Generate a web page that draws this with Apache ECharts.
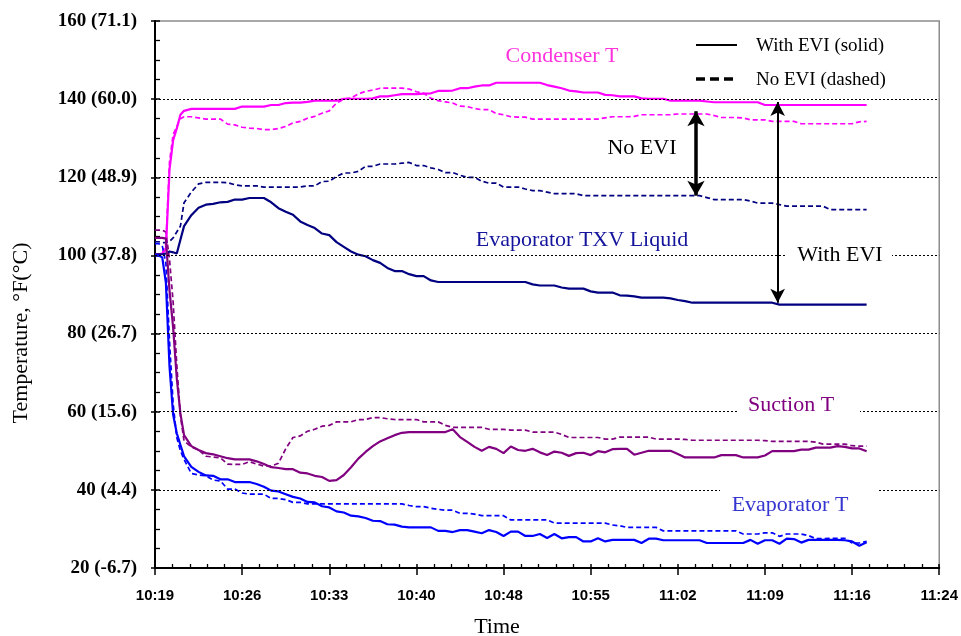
<!DOCTYPE html>
<html>
<head>
<meta charset="utf-8">
<script src="https://cdn.jsdelivr.net/npm/echarts@6/dist/echarts.min.js"></script>
<style>
  html, body { margin: 0; padding: 0; background: #fff; }
  #chart { width: 961px; height: 636px; }
</style>
</head>
<body>
<div id="chart"></div>
<script>
// Sample times, minutes after midnight (10:19:12 onward)
const minutes = [619.2, 619.5, 619.8, 620.1, 620.4, 620.7, 621.0, 621.3, 621.6,
  622.2, 622.8, 623.4, 624.0, 624.6, 625.2, 625.8, 626.4, 627.0, 627.6,
  628.2, 628.8, 629.4, 630.0, 630.6, 631.2, 631.8, 632.4, 633.0, 633.6,
  634.2, 634.8, 635.4, 636.0, 636.6, 637.2, 637.8, 638.4, 639.0, 639.6,
  640.2, 640.8, 641.4, 642.0, 642.6, 643.2, 643.8, 644.4, 645.0, 645.6,
  646.2, 646.8, 647.4, 648.0, 648.6, 649.2, 649.8, 650.4, 651.0, 651.6,
  652.2, 652.8, 653.4, 654.0, 654.6, 655.2, 655.8, 656.4, 657.0, 657.6,
  658.2, 658.8, 659.4, 660.0, 660.6, 661.2, 661.8, 662.4, 663.0, 663.6,
  664.2, 664.8, 665.4, 666.0, 666.6, 667.2, 667.8, 668.4, 669.0, 669.6,
  670.2, 670.8, 671.4, 672.0, 672.6, 673.2, 673.8, 674.4, 675.0, 675.6,
  676.2, 676.8, 677.4, 678.0];

// Condenser temperature, °F
const condenserWithEvi = [100.3, 100.3, 100.5, 101.5, 122, 129.5, 132.5, 136, 137,
  137.5, 137.5, 137.5, 137.5, 137.5, 137.5, 137.5, 138.1, 138.1, 138.1,
  138.1, 138.5, 138.5, 139.0, 139.1, 139.1, 139.3, 139.6, 139.6, 139.6,
  139.6, 140.1, 140.1, 140.1, 140.1, 140.2, 140.7, 140.7, 141.0, 141.3,
  141.3, 141.3, 141.4, 141.5, 142.1, 142.1, 142.2, 142.8, 142.8, 143.2,
  143.5, 143.5, 144.2, 144.2, 144.2, 144.2, 144.2, 144.2, 144.2, 143.6,
  143.2, 142.8, 142.2, 142.0, 141.7, 141.7, 141.7, 141.1, 141.0, 140.7,
  140.7, 140.7, 140.2, 140.1, 140.1, 140.1, 139.6, 139.6, 139.6, 139.6,
  139.6, 139.4, 139.2, 139.2, 139.2, 139.2, 139.2, 139.2, 139.2, 138.5,
  138.5, 138.5, 138.5, 138.5, 138.5, 138.5, 138.5, 138.5, 138.5, 138.5,
  138.5, 138.5, 138.5, 138.5];
const condenserNoEvi = [100.3, 100.3, 100.5, 103, 124, 131, 133, 135, 135.5,
  135.5, 135.2, 134.9, 134.9, 134.9, 133.6, 133.4, 132.8, 132.6, 132.5,
  132.2, 132.2, 132.5, 133.0, 133.9, 134.3, 135.1, 135.6, 136.4, 137,
  139, 140, 140.3, 141.3, 142, 142.3, 142.8, 142.8, 142.8, 142.8,
  142.6, 141.9, 141.5, 140.2, 139.6, 139.3, 139, 138.2, 138.1, 137.6,
  137.3, 137.3, 136.3, 136, 135.5, 135.4, 135.4, 134.9, 134.9, 134.9,
  134.9, 134.9, 134.9, 134.9, 134.9, 134.9, 134.9, 135.2, 135.5, 135.5,
  135.5, 135.6, 136, 136, 136, 136, 136, 136.2, 136.2, 136.2,
  136.2, 136.2, 135.8, 135.3, 135.3, 135.3, 135.2, 134.7, 134.7, 134.7,
  134.3, 134.3, 134.3, 134.3, 133.7, 133.7, 133.7, 133.7, 133.7, 133.7,
  133.7, 133.7, 134.2, 134.3];

// Evaporator TXV liquid temperature, °F
const txvWithEvi = [100.3, 100.3, 100.3, 100.5, 101, 100.8, 100.5, 104, 107.5,
  110.3, 112.2, 113, 113.2, 113.6, 113.7, 114.3, 114.3, 114.7, 114.7,
  114.7, 113.6, 112.1, 111.2, 110.4, 108.7, 107.8, 107, 105.6, 105.2,
  103.4, 102.2, 101, 100.2, 99.8, 98.8, 98.1, 96.8, 96, 96,
  95.2, 94.7, 94.7, 93.6, 93.2, 93.2, 93.2, 93.2, 93.2, 93.2,
  93.2, 93.2, 93.2, 93.2, 93.2, 93.2, 93.2, 92.6, 92.3, 92.3,
  92.3, 91.8, 91.5, 91.5, 91.5, 90.8, 90.5, 90.5, 90.5, 89.8,
  89.7, 89.5, 89.2, 89.2, 89.2, 89.2, 89.0, 88.6, 88.3, 87.9,
  87.9, 87.9, 87.9, 87.9, 87.9, 87.9, 87.9, 87.9, 87.9, 87.9,
  87.9, 87.4, 87.4, 87.4, 87.4, 87.4, 87.4, 87.4, 87.4, 87.4,
  87.4, 87.4, 87.4, 87.4];
const txvNoEvi = [103.5, 103.5, 103.3, 103.3, 103.6, 104.5, 106, 107.5, 113.5,
  116.2, 118.3, 118.7, 118.7, 118.7, 118.6, 118.1, 117.8, 117.8, 117.8,
  117.5, 117.5, 117.5, 117.5, 117.5, 117.5, 117.8, 117.8, 118.9, 119,
  120.2, 121.1, 121.1, 121.5, 122.8, 122.8, 123.4, 123.4, 123.4, 123.6,
  123.8, 123, 123, 122.4, 122, 121.2, 121.2, 120.5, 120, 120,
  119, 118.5, 118.5, 117.5, 117.5, 117.5, 117, 116.6, 116.6, 116.2,
  115.8, 115.8, 115.8, 115.8, 115.3, 115.3, 115.3, 115.3, 115.3, 115.3,
  115.3, 115.3, 115.3, 115.3, 115.3, 115.3, 115.3, 115.3, 115.3, 115.3,
  115.3, 114.8, 114.3, 114.3, 114.3, 114.3, 114.3, 113.9, 113.4, 113.4,
  113.4, 113.0, 112.6, 112.6, 112.6, 112.6, 112.6, 112.6, 111.7, 111.7,
  111.7, 111.7, 111.7, 111.7];

// Suction temperature, °F
const suctionWithEvi = [104.5, 104.5, 104.5, 104.3, 91, 81.5, 68.5, 59.5, 54,
  51.2, 50.2, 49.4, 49.1, 48.6, 48.1, 47.8, 47.8, 47.8, 47.3,
  46.6, 45.8, 45.6, 45.3, 45.3, 44.4, 44.2, 43.6, 43.3, 42.3,
  42.5, 43.8, 45.8, 48, 49.7, 51.2, 52.4, 53.2, 54, 54.6,
  54.8, 54.8, 54.8, 54.8, 54.8, 54.8, 55.5, 53.5, 52.3, 51,
  50, 51, 50.5, 49.4, 51.1, 50.2, 50, 50.5, 49.6, 48.9,
  49.8, 49.5, 48.7, 49.4, 49.5, 48.9, 49.9, 49.6, 50.4, 50.5,
  50.5, 49, 49.5, 50, 50, 50, 50, 49.2, 48.3, 48.3,
  48.3, 48.3, 48.3, 48.9, 48.9, 48.9, 48.3, 48.3, 48.3, 48.8,
  49.9, 49.9, 49.9, 49.9, 50.3, 50.3, 50.8, 50.8, 50.8, 51.2,
  51.0, 50.6, 50.6, 49.9];
const suctionNoEvi = [106.5, 106.5, 106.5, 106, 99, 88, 72, 59, 52.5,
  51, 50.2, 48.6, 48.4, 48.2, 46.6, 46.5, 46.5, 47.2, 46.6,
  46.1, 46.1, 46.8, 50.5, 53.4, 53.8, 55, 55.5, 56.3, 56.5,
  57.4, 57.4, 57.4, 58, 58, 58.5, 58.5, 58.2, 58, 58,
  58, 58, 57.4, 57.4, 57.4, 56.5, 56, 56, 56, 56,
  56, 55.5, 55.5, 55.5, 55.3, 55.3, 55.3, 54.8, 54.8, 54.8,
  54.8, 54.2, 53.4, 53.4, 53.4, 53.4, 53.4, 53, 53, 53.5,
  53.5, 53.5, 53.5, 53.5, 53, 53, 53, 53, 52.9, 52.7,
  52.7, 52.7, 52.7, 52.7, 52.7, 52.7, 52.7, 52.7, 52.7, 52.6,
  52.4, 52.4, 52.4, 52.4, 52.4, 52.4, 52.2, 51.7, 51.7, 51.7,
  51.7, 51.3, 51.2, 51.2];

// Evaporator temperature, °F
const evaporatorWithEvi = [100, 100, 99.5, 93, 71.5, 59.2, 54.5, 51.5, 48.6,
  45.9, 44.6, 43.7, 43.6, 42.7, 42.7, 42, 42, 42, 41.5,
  40.8, 39.8, 39.6, 38.9, 38.2, 37.8, 36.9, 36.8, 35.8, 35.5,
  34.5, 34.2, 33.4, 33.2, 32.8, 32.1, 32, 31.2, 31.1, 30.6,
  30.4, 30.4, 30.4, 30.4, 29.5, 29.5, 29.2, 29.7, 29.7, 29.3,
  28.9, 29.7, 29.2, 28.2, 29.3, 29.3, 28.2, 28.2, 28.7, 27.7,
  28.7, 27.6, 27.9, 27.9, 26.8, 26.8, 27.6, 26.8, 27.2, 27.2,
  27.2, 27.2, 26.4, 27.5, 27.5, 27.1, 27.1, 27.1, 27.1, 27.1,
  27.1, 26.4, 26.4, 26.4, 26.4, 26.4, 26.4, 27.2, 26.2, 27.1,
  27.1, 26.2, 27.5, 27.4, 26.5, 27.2, 27.2, 27.2, 27.2, 27.2,
  27.1, 26.8, 25.7, 26.6];
const evaporatorNoEvi = [103, 103, 102.5, 98, 78, 62, 53.4, 50, 47.8,
  44.2, 43.8, 43.6, 42.5, 42.3, 40.2, 40.2, 39.2, 38.9, 38.9,
  38.9, 37.8, 37.8, 37.5, 36.8, 36.8, 36.4, 36.4, 36.4, 36.4,
  36.4, 36.4, 36.4, 36.4, 36.4, 36.4, 36.4, 36.4, 36.4, 36.4,
  36, 35.7, 35.7, 35.3, 35, 34.8, 34.8, 34, 34, 33.8,
  33.4, 33.4, 33.4, 33.4, 32.3, 32.3, 32.3, 32.3, 32.3, 32.3,
  31.5, 31.5, 31.5, 31.5, 31.5, 31.5, 31.5, 31.5, 31, 30.8,
  30.4, 30.4, 30.4, 30.4, 30.4, 29.5, 29.5, 29.5, 29.5, 29.5,
  29.5, 29.5, 29.5, 29.5, 29.5, 29.5, 28.7, 28.7, 28.7, 29,
  29, 28.1, 28.7, 28.7, 28.7, 28.3, 27.5, 27.5, 27.6, 27.6,
  27.6, 26.4, 26.4, 26.8];

// Axis tick labels, °F (°C)
const tempTickLabels = ['20 (-6.7)', '40 (4.4)', '60 (15.6)', '80 (26.7)',
  '100 (37.8)', '120 (48.9)', '140 (60.0)', '160 (71.1)'];
// Horizontal reference lines, °F
const gridTemps = [40, 60, 80, 100, 120, 140];

// Spread between condenser and TXV liquid at a chosen moment
const noEviSpread = { time: 663.9, low: 115.3, high: 136.9 };
const withEviSpread = { time: 670.65, low: 87.9, high: 139.3 };

const SERIF = '"Liberation Serif", "Times New Roman", serif';
const SANS = '"Liberation Sans", Arial, sans-serif';

function pairs(vals) { return minutes.map((t, i) => [t, vals[i]]); }
function solidLine(name, color, vals) {
  return { name, type: 'line', data: pairs(vals), symbol: 'none', z: 4,
    lineStyle: { color, width: 2.2 }, itemStyle: { color }, silent: true };
}
function dashedLine(name, color, vals) {
  return { name, type: 'line', data: pairs(vals), symbol: 'none', z: 3,
    lineStyle: { color, width: 1.7, type: [5, 3] }, itemStyle: { color }, silent: true };
}
function spreadArrow(spread, width, size) {
  return { type: 'line', data: [], silent: true, z: 6,
    markLine: { silent: true, animation: false, symbol: ['arrow', 'arrow'], symbolSize: size,
      label: { show: false }, lineStyle: { color: '#000', width, type: 'solid' },
      data: [[{ coord: [spread.time, spread.low] }, { coord: [spread.time, spread.high] }]] } };
}
function clock(v) {
  const m = Math.round(v * 10) / 10;
  const h = Math.floor(m / 60);
  const mm = Math.floor(m - h * 60 + 1e-6);
  return h + ':' + String(mm).padStart(2, '0');
}

const chart = echarts.init(document.getElementById('chart'), null, { renderer: 'canvas' });

const xCommon = { type: 'value', min: 619.2, max: 684, interval: 7.2, position: 'bottom' };
const yCommon = { type: 'value', min: 20, max: 160, interval: 20, position: 'left' };

chart.setOption({
  animation: false,
  backgroundColor: '#fff',
  grid: { left: 155, right: 21, top: 21, bottom: 68, show: true,
    borderColor: '#8c8c8c', borderWidth: 1.5, backgroundColor: 'transparent' },
  xAxis: [
    Object.assign({}, xCommon, {
      axisLine: { show: true, onZero: false, lineStyle: { color: '#000', width: 2 } },
      axisTick: { show: true, inside: false, length: 7, lineStyle: { color: '#000', width: 1.5 } },
      minorTick: { show: false },
      splitLine: { show: false },
      axisLabel: { show: true, margin: 20, color: '#000', fontFamily: SANS, fontWeight: 'bold',
        fontSize: 15, formatter: clock }
    }),
    Object.assign({}, xCommon, {
      axisLine: { show: false, onZero: false },
      axisTick: { show: true, inside: true, length: 4, lineStyle: { color: '#000', width: 1.5 } },
      minorTick: { show: true, splitNumber: 5, length: 4, lineStyle: { color: '#000', width: 1.3 } },
      splitLine: { show: false },
      axisLabel: { show: false }
    })
  ],
  yAxis: [
    Object.assign({}, yCommon, {
      axisLine: { show: true, onZero: false, lineStyle: { color: '#000', width: 2 } },
      axisTick: { show: true, inside: false, length: 4, lineStyle: { color: '#000', width: 1.5 } },
      minorTick: { show: false },
      splitLine: { show: false },
      axisLabel: { show: true, margin: 18, color: '#000', fontFamily: SERIF, fontWeight: 'bold',
        fontSize: 19, formatter: v => tempTickLabels[Math.round((v - 20) / 20)] }
    }),
    Object.assign({}, yCommon, {
      axisLine: { show: false, onZero: false },
      axisTick: { show: true, inside: true, length: 5, lineStyle: { color: '#000', width: 1.5 } },
      minorTick: { show: true, splitNumber: 4, length: 5, lineStyle: { color: '#000', width: 1.3 } },
      splitLine: { show: false },
      axisLabel: { show: false }
    })
  ],
  series: [
    { type: 'line', data: [], silent: true, z: 1,
      markLine: { silent: true, animation: false, symbol: 'none', label: { show: false },
        lineStyle: { color: '#000', width: 1, type: [2, 2] },
        data: gridTemps.map(v => ({ yAxis: v })) } },
    dashedLine('Condenser T, no EVI', '#ff00ff', condenserNoEvi),
    dashedLine('Evaporator TXV Liquid, no EVI', '#000080', txvNoEvi),
    dashedLine('Suction T, no EVI', '#800080', suctionNoEvi),
    dashedLine('Evaporator T, no EVI', '#0000ff', evaporatorNoEvi),
    solidLine('Condenser T, with EVI', '#ff00ff', condenserWithEvi),
    solidLine('Evaporator TXV Liquid, with EVI', '#000080', txvWithEvi),
    solidLine('Suction T, with EVI', '#800080', suctionWithEvi),
    solidLine('Evaporator T, with EVI', '#0000ff', evaporatorWithEvi),
    spreadArrow(noEviSpread, 3.5, [13, 15]),
    spreadArrow(withEviSpread, 2, [11, 14])
  ],
  graphic: [
    // white boxes behind labels that sit on reference lines
    { type: 'rect', z: 50, shape: { x: 787, y: 245, width: 105, height: 20 }, style: { fill: '#fff' } },
    { type: 'rect', z: 50, shape: { x: 737, y: 395, width: 123, height: 22 }, style: { fill: '#fff' } },
    { type: 'rect', z: 50, shape: { x: 720, y: 485, width: 158, height: 28 }, style: { fill: '#fff' } },

    { type: 'text', z: 60, x: 562, y: 56, style: { text: 'Condenser T', fill: '#ff33dd',
      font: '22px ' + SERIF, align: 'center', verticalAlign: 'middle' } },
    { type: 'text', z: 60, x: 582, y: 240, style: { text: 'Evaporator TXV Liquid', fill: '#14149c',
      font: '22px ' + SERIF, align: 'center', verticalAlign: 'middle' } },
    { type: 'text', z: 60, x: 642, y: 148, style: { text: 'No EVI', fill: '#000',
      font: '22px ' + SERIF, align: 'center', verticalAlign: 'middle' } },
    { type: 'text', z: 60, x: 840, y: 255, style: { text: 'With EVI', fill: '#000',
      font: '22px ' + SERIF, align: 'center', verticalAlign: 'middle' } },
    { type: 'text', z: 60, x: 791, y: 405, style: { text: 'Suction T', fill: '#800080',
      font: '22px ' + SERIF, align: 'center', verticalAlign: 'middle' } },
    { type: 'text', z: 60, x: 790, y: 505, style: { text: 'Evaporator T', fill: '#3535d0',
      font: '22px ' + SERIF, align: 'center', verticalAlign: 'middle' } },

    // key for line styles
    { type: 'line', z: 60, shape: { x1: 696, y1: 45, x2: 737, y2: 45 }, style: { stroke: '#000', lineWidth: 2 } },
    { type: 'line', z: 60, shape: { x1: 696, y1: 79, x2: 737, y2: 79 }, style: { stroke: '#000', lineWidth: 3.5, lineDash: [9, 5] } },
    { type: 'text', z: 60, x: 756, y: 46, style: { text: 'With EVI (solid)', fill: '#000',
      font: '19px ' + SERIF, align: 'left', verticalAlign: 'middle' } },
    { type: 'text', z: 60, x: 756, y: 80, style: { text: 'No EVI (dashed)', fill: '#000',
      font: '19px ' + SERIF, align: 'left', verticalAlign: 'middle' } },

    // axis titles
    { type: 'text', z: 60, x: 21, y: 333, rotation: Math.PI / 2, style: { text: 'Temperature, °F(°C)', fill: '#000',
      font: '22px ' + SERIF, align: 'center', verticalAlign: 'middle' } },
    { type: 'text', z: 60, x: 497, y: 627, style: { text: 'Time', fill: '#000',
      font: '22px ' + SERIF, align: 'center', verticalAlign: 'middle' } }
  ]
});
</script>
</body>
</html>
